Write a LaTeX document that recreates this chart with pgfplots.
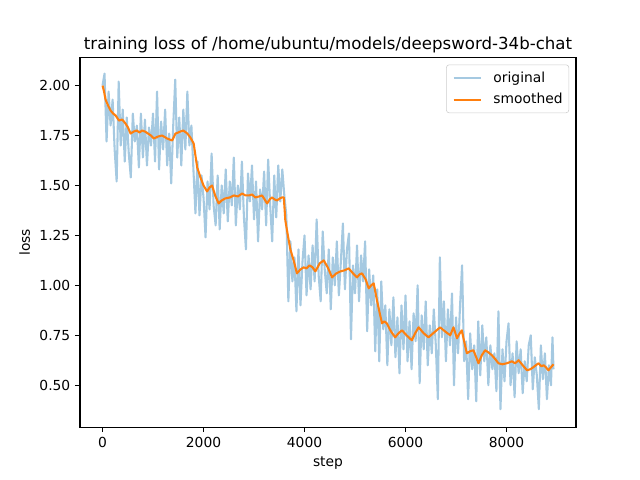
\documentclass[border=0pt]{standalone}
\usepackage{fontspec}
\setmainfont{DejaVu Sans}
\usepackage{pgfplots}
\pgfplotsset{compat=1.18}
\definecolor{origc}{HTML}{A5C9E1}
\definecolor{smoc}{HTML}{FF7F0E}
\begin{document}
\begin{tikzpicture}
\useasboundingbox (-0.8in,-0.528in) rectangle (5.6in,4.272in);
\begin{axis}[
  at={(0,0)}, anchor=south west,
  scale only axis, width=4.96in, height=3.696in,
  xmin=-446, xmax=9376, ymin=0.29, ymax=2.14,
  axis line style={line width=0.8pt},
  every tick/.style={black, line width=0.8pt},
  tick align=outside, major tick length=3.5pt, tick pos=left,
  xtick={0,2000,4000,6000,8000},
  ytick={0.5,0.75,1.0,1.25,1.5,1.75,2.0},
  /pgf/number format/assume math mode=true,
  /pgf/number format/1000 sep={},
  yticklabel style={/pgf/number format/fixed, /pgf/number format/precision=2, /pgf/number format/fixed zerofill},
  tick label style={font=\fontsize{10}{12}\selectfont},
  label style={font=\fontsize{10}{12}\selectfont},
  xlabel={step}, ylabel={loss},
  title={training loss of /home/ubuntu/models/deepsword-34b-chat},
  title style={font=\fontsize{12}{14}\selectfont, anchor=base, inner sep=0pt},
  legend cell align=left,
  legend image code/.code={\draw[#1] (0pt,0pt) -- (20pt,0pt);},
  legend style={at={(1,1)}, anchor=north east, xshift=-5pt, yshift=-5pt,
    draw=black!20, rounded corners=2pt, fill=white, fill opacity=0.8, text opacity=1,
    font=\fontsize{10}{12}\selectfont, row sep=2.5pt, column sep=8pt, inner xsep=4.5pt, inner ysep=3pt,
    nodes={inner xsep=0pt}},
]
\addplot[origc, line width=1.5pt, line join=round] table {
0 2.00
40 2.06
80 1.72
120 1.97
160 1.80
200 1.93
240 1.68
280 1.52
320 2.02
360 1.70
400 1.88
440 1.62
480 1.84
520 1.66
560 1.54
600 1.86
640 1.72
680 1.80
720 1.59
760 1.86
800 1.64
840 1.83
880 1.60
920 1.79
960 1.70
1000 1.86
1040 1.62
1080 1.97
1120 1.58
1160 1.82
1200 1.68
1240 1.88
1280 1.60
1320 1.76
1360 1.51
1400 1.80
1440 2.03
1480 1.64
1520 1.84
1560 1.60
1600 1.88
1640 1.68
1680 1.97
1720 1.70
1760 1.80
1800 1.58
1840 1.36
1880 1.62
1920 1.35
1960 1.55
2000 1.44
2040 1.24
2080 1.52
2120 1.38
2160 1.66
2200 1.40
2240 1.30
2280 1.55
2320 1.28
2360 1.50
2400 1.36
2440 1.58
2480 1.32
2520 1.52
2560 1.40
2600 1.64
2640 1.30
2680 1.50
2720 1.38
2760 1.62
2800 1.34
2840 1.18
2880 1.56
2920 1.42
2960 1.60
3000 1.33
3040 1.52
3080 1.22
3120 1.48
3160 1.38
3200 1.57
3240 1.30
3280 1.63
3320 1.40
3360 1.22
3400 1.55
3440 1.34
3480 1.60
3520 1.42
3560 1.58
3600 1.45
3640 1.35
3680 0.92
3720 1.22
3760 1.02
3800 1.14
3840 0.87
3880 1.18
3920 0.90
3960 1.12
4000 1.25
4040 0.95
4080 1.15
4120 0.98
4160 1.20
4200 1.02
4240 1.33
4280 1.05
4320 0.92
4360 1.27
4400 1.08
4440 0.96
4480 1.18
4520 0.88
4560 1.14
4600 1.00
4640 1.22
4680 0.95
4720 1.12
4760 1.31
4800 0.98
4840 1.18
4880 1.26
4920 0.73
4960 1.10
5000 0.96
5040 1.20
5080 0.92
5120 1.15
5160 1.02
5200 1.22
5240 0.77
5280 1.08
5320 0.90
5360 1.05
5400 0.67
5440 0.98
5480 0.62
5520 1.02
5560 0.78
5600 0.90
5640 0.60
5680 0.88
5720 0.70
5760 0.94
5800 0.64
5840 0.84
5880 0.56
5920 0.90
5960 0.68
6000 0.95
6040 0.62
6080 0.82
6120 0.58
6160 0.86
6200 0.72
6240 1.00
6280 0.51
6320 0.85
6360 0.68
6400 0.92
6440 0.60
6480 0.80
6520 0.66
6560 0.88
6600 0.70
6640 0.43
6680 1.14
6720 0.74
6760 0.92
6800 0.62
6840 0.88
6880 0.70
6920 0.96
6960 0.50
7000 0.84
7040 0.66
7080 0.90
7120 1.10
7160 0.62
7200 0.72
7240 0.43
7280 0.76
7320 0.58
7360 0.70
7400 0.42
7440 0.82
7480 0.55
7520 0.80
7560 0.62
7600 0.74
7640 0.50
7680 0.70
7720 0.58
7760 0.66
7800 0.47
7840 0.87
7880 0.38
7920 0.68
7960 0.52
8000 0.72
8040 0.81
8080 0.50
8120 0.66
8160 0.44
8200 0.72
8240 0.56
8280 0.68
8320 0.46
8360 0.62
8400 0.52
8440 0.70
8480 0.75
8520 0.48
8560 0.64
8600 0.55
8640 0.38
8680 0.70
8720 0.53
8760 0.66
8800 0.43
8840 0.60
8880 0.50
8910 0.74
8930 0.58
};
\addlegendentry{original}
\addplot[smoc, line width=1.5pt, line join=round] table {
0 2.00
30 1.97
60 1.93
110 1.90
160 1.875
210 1.86
260 1.85
325 1.825
390 1.83
455 1.81
505 1.79
555 1.76
620 1.77
680 1.775
730 1.765
785 1.775
840 1.77
900 1.76
960 1.75
1015 1.735
1100 1.745
1180 1.75
1280 1.735
1380 1.725
1445 1.76
1500 1.765
1540 1.77
1600 1.775
1680 1.76
1740 1.74
1805 1.71
1875 1.59
1940 1.54
2000 1.50
2070 1.47
2120 1.49
2170 1.50
2230 1.45
2300 1.41
2360 1.425
2430 1.435
2520 1.44
2600 1.45
2680 1.445
2765 1.46
2830 1.45
2900 1.45
2960 1.455
3025 1.44
3100 1.445
3160 1.45
3210 1.43
3260 1.41
3310 1.43
3355 1.44
3410 1.43
3455 1.425
3510 1.435
3555 1.44
3590 1.44
3620 1.325
3670 1.25
3720 1.18
3790 1.12
3850 1.06
3920 1.08
3985 1.09
4040 1.085
4100 1.10
4160 1.09
4215 1.07
4300 1.11
4380 1.125
4460 1.09
4545 1.04
4630 1.06
4710 1.07
4790 1.075
4875 1.085
4960 1.06
5040 1.04
5090 1.055
5140 1.06
5210 1.03
5270 0.985
5320 1.00
5370 1.01
5435 0.925
5490 0.86
5535 0.81
5580 0.82
5630 0.81
5710 0.77
5795 0.74
5860 0.76
5930 0.775
6020 0.75
6125 0.725
6190 0.76
6260 0.79
6360 0.76
6455 0.74
6570 0.765
6685 0.79
6780 0.77
6885 0.75
6950 0.79
7020 0.735
7060 0.755
7115 0.775
7160 0.72
7215 0.66
7280 0.67
7345 0.675
7400 0.64
7445 0.61
7510 0.65
7575 0.675
7640 0.665
7710 0.65
7780 0.63
7840 0.61
7920 0.605
8005 0.61
8060 0.615
8105 0.62
8170 0.61
8240 0.625
8320 0.60
8405 0.575
8470 0.58
8530 0.59
8580 0.60
8635 0.61
8690 0.595
8735 0.60
8780 0.59
8830 0.575
8880 0.59
8930 0.605
};
\addlegendentry{smoothed}
\end{axis}
\end{tikzpicture}
\end{document}
